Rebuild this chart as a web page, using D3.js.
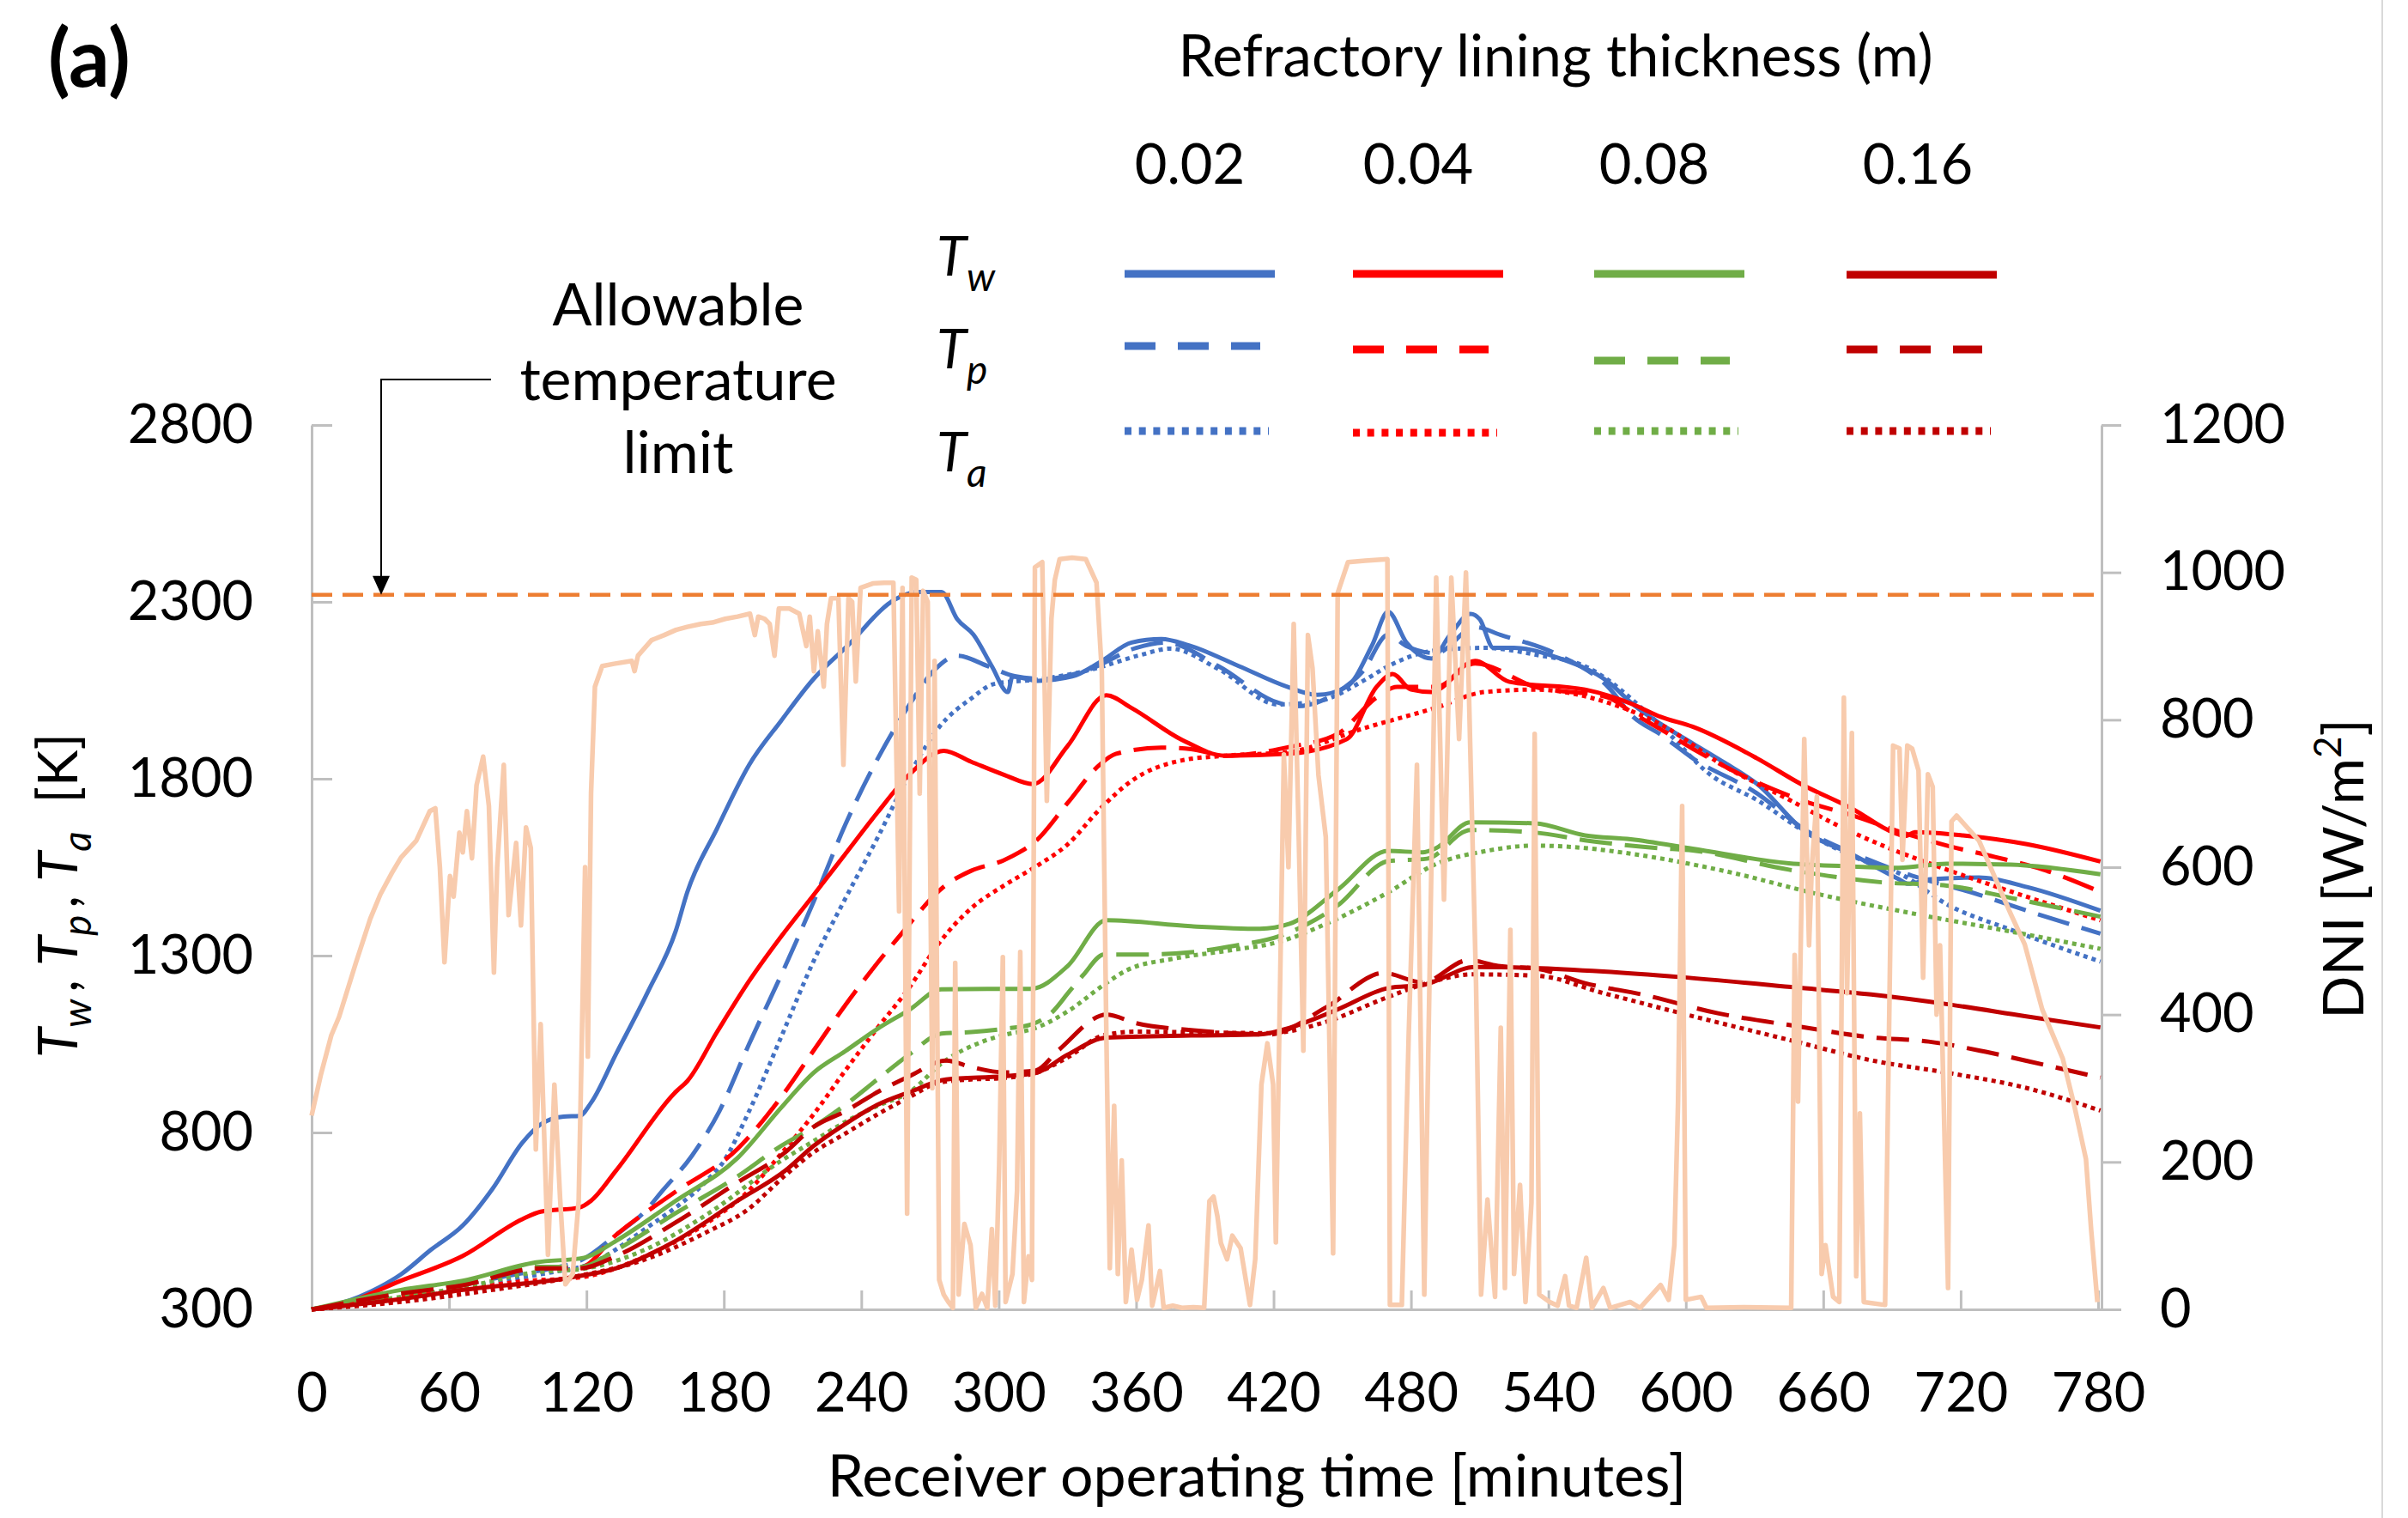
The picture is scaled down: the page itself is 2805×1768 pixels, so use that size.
<!DOCTYPE html>
<html>
<head>
<meta charset="utf-8">
<script src="https://cdn.jsdelivr.net/npm/d3@7"></script>
<style>
  body { margin: 0; background: #fff; }
  svg text { font-family: Lato, "Open Sans", sans-serif; fill: #000; }
</style>
</head>
<body>
<div id="chart"></div>
<script>
// [minutes, K]
var tw002 = [[0,300],[12,316],[30,364],[39,399],[52,468],[66,537],[79,641],[92,771],[100,823],[110,845],[117,847],[122,884],[133,1023],[147,1200],[159,1370],[164,1479],[177,1659],[191,1839],[205,1964],[219,2081],[234,2176],[255,2308],[264,2328],[275,2328],[282,2250],[289,2207],[297,2118],[304,2045],[306,2089],[317,2077],[332,2089],[345,2133],[358,2185],[371,2195],[383,2177],[405,2118],[426,2060],[439,2037],[452,2060],[463,2177],[470,2272],[478,2185],[489,2140],[497,2206],[506,2266],[510,2251],[516,2170],[525,2170],[545,2140],[566,2074],[577,2010],[589,1955],[603,1900],[617,1845],[631,1786],[652,1651],[672,1588],[693,1516],[697,1503],[707,1516],[728,1521],[749,1494],[781,1427]];
var tp002 = [[0,300],[30,328],[60,362],[90,400],[105,416],[118,440],[133,511],[146,580],[153,634],[166,734],[178,860],[191,1050],[205,1245],[219,1450],[233,1670],[247,1855],[261,2009],[272,2108],[282,2148],[295,2119],[307,2090],[320,2082],[340,2110],[360,2170],[373,2185],[396,2118],[422,2015],[430,2005],[448,2045],[459,2104],[470,2207],[478,2175],[491,2155],[508,2229],[519,2207],[545,2148],[566,2060],[577,1975],[589,1925],[603,1858],[631,1759],[652,1656],[675,1584],[695,1534],[728,1472],[749,1427],[781,1362]];
var ta002 = [[0,300],[30,322],[60,352],[90,388],[105,405],[120,425],[146,529],[173,667],[179,710],[191,860],[205,1070],[219,1282],[233,1461],[247,1632],[261,1812],[274,1946],[288,2027],[298,2068],[319,2082],[340,2108],[362,2150],[375,2168],[396,2110],[422,2010],[440,2020],[460,2080],[470,2118],[491,2163],[512,2170],[535,2150],[556,2118],[588,1957],[611,1810],[631,1740],[652,1650],[675,1575],[694,1530],[714,1445],[742,1373],[781,1283]];
var tw004 = [[0,300],[12,312],[39,381],[66,451],[92,555],[100,576],[117,588],[122,607],[133,693],[159,915],[164,945],[177,1084],[191,1228],[205,1354],[219,1470],[233,1587],[247,1704],[261,1812],[276,1879],[288,1848],[302,1812],[315,1785],[330,1892],[347,2036],[358,2000],[380,1910],[399,1865],[427,1871],[452,1912],[465,2060],[472,2096],[480,2052],[489,2045],[508,2133],[523,2074],[556,2052],[577,2010],[589,1975],[603,1947],[631,1858],[650,1786],[673,1714],[691,1647],[696,1638],[700,1649],[721,1640],[749,1615],[781,1566]];
var tp004 = [[0,300],[30,325],[60,358],[93,416],[117,418],[133,511],[159,633],[186,754],[205,900],[219,1030],[233,1160],[256,1350],[277,1500],[288,1540],[302,1569],[309,1592],[316,1623],[330,1731],[344,1839],[351,1870],[371,1888],[384,1884],[399,1865],[427,1890],[448,1927],[465,2030],[474,2060],[491,2060],[508,2126],[534,2060],[566,2030],[577,1985],[589,1940],[603,1885],[631,1790],[652,1736],[673,1696],[693,1651],[714,1611],[735,1579],[756,1543],[781,1480]];
var ta004 = [[0,300],[30,318],[60,348],[90,378],[119,392],[146,451],[173,546],[190,630],[205,740],[219,850],[233,975],[247,1095],[261,1210],[274,1336],[288,1434],[302,1497],[316,1551],[330,1614],[344,1713],[358,1794],[380,1852],[399,1865],[427,1876],[459,1942],[491,2001],[512,2045],[534,2052],[566,2015],[590,1950],[617,1835],[645,1741],[666,1669],[686,1611],[714,1543],[742,1481],[781,1400]];
var tw008 = [[0,300],[39,355],[66,381],[98,433],[119,446],[133,494],[159,607],[186,728],[205,870],[219,968],[233,1030],[247,1093],[261,1147],[275,1205],[295,1206],[314,1206],[330,1270],[347,1400],[384,1383],[414,1376],[427,1390],[448,1486],[470,1596],[485,1592],[491,1604],[506,1677],[534,1674],[556,1640],[576,1629],[603,1602],[645,1561],[673,1552],[693,1548],[714,1560],[742,1557],[781,1530]];
var tp008 = [[0,300],[39,345],[66,372],[98,420],[117,420],[133,468],[159,572],[186,676],[204,758],[219,815],[233,878],[247,950],[261,1021],[275,1080],[288,1084],[302,1093],[314,1105],[323,1138],[331,1200],[337,1246],[346,1303],[363,1303],[383,1309],[403,1328],[423,1356],[448,1442],[470,1567],[487,1574],[506,1655],[534,1648],[556,1626],[588,1604],[603,1597],[645,1543],[686,1507],[714,1498],[742,1463],[781,1410]];
var ta008 = [[0,300],[39,335],[66,362],[98,405],[119,415],[146,470],[173,570],[205,720],[219,775],[233,830],[247,875],[261,914],[276,1000],[293,1057],[302,1075],[316,1095],[331,1146],[346,1218],[356,1259],[376,1291],[401,1315],[423,1340],[443,1390],[469,1475],[491,1559],[513,1596],[534,1611],[556,1604],[576,1588],[617,1539],[659,1472],[700,1418],[742,1368],[781,1319]];
var tw016 = [[0,300],[39,329],[66,355],[113,390],[133,416],[159,494],[186,607],[207,693],[219,761],[233,824],[247,878],[261,914],[277,950],[302,959],[316,968],[330,1020],[347,1068],[384,1074],[414,1077],[427,1096],[448,1148],[470,1208],[486,1218],[508,1268],[534,1265],[564,1255],[598,1239],[648,1210],[681,1190],[715,1162],[748,1129],[781,1097]];
var tp016 = [[0,300],[39,345],[66,368],[100,416],[117,416],[133,451],[159,546],[186,659],[207,745],[219,815],[233,860],[247,914],[261,959],[277,1003],[288,985],[302,970],[316,975],[326,1032],[347,1133],[360,1109],[385,1089],[418,1077],[443,1154],[468,1251],[485,1224],[505,1287],[518,1271],[535,1263],[556,1222],[581,1190],[614,1137],[648,1101],[681,1069],[706,1057],[731,1028],[756,992],[781,955]];
var ta016 = [[0,300],[39,321],[79,355],[113,390],[146,442],[173,520],[190,580],[207,680],[219,743],[233,797],[247,851],[261,900],[274,941],[288,950],[302,954],[316,968],[330,1012],[346,1075],[360,1085],[418,1081],[443,1113],[468,1178],[485,1218],[507,1247],[535,1243],[564,1194],[598,1137],[648,1057],[681,1004],[715,968],[748,927],[781,862]];

// [minutes, W/m2]
var dni = [[0,263],[4,318],[8.6,372],[12,397],[19.4,471],[25.6,530],[30,563],[35,592],[39,613],[45.7,636],[51.6,676],[54,680],[56,600],[58,471],[60.4,588],[62,560],[64.5,647],[66,620],[67.8,676],[70,612],[72,711],[74.9,750],[77.4,683],[79.6,457],[81,600],[83.9,739],[86,535],[89.3,633],[91.4,521],[93.6,654],[95.7,626],[97.9,217],[100,387],[103.2,74],[106,305],[108.5,150],[110.8,34],[114,48],[116.6,147],[117.8,337],[119.4,600],[120.6,343],[122,700],[123.7,845],[126.9,873],[132,876],[139.8,880],[141,866],[142.5,887],[148.4,908],[154,915],[159.1,922],[164,926],[169.9,930],[175,932],[180.6,937],[186,940],[191.4,944],[193.5,915],[195,940],[197.8,937],[200,930],[202.1,887],[204,951],[208.6,951],[212.9,944],[216,900],[217.5,940],[219.3,866],[221,920],[223.6,845],[225,930],[226.8,965],[230,965],[232.2,739],[234.4,965],[236,960],[237.6,852],[239.7,979],[245,985],[250,986],[254,986],[256.5,540],[258,979],[260,130],[262,993],[264,990],[265.5,700],[267,975],[269,960],[271,300],[272,880],[274,40],[276,20],[278,10],[280,2],[281,470],[282.5,20],[285,116],[287.7,87],[290,2],[292.7,21],[295,2],[297,109],[298.5,5],[300.2,196],[301.8,478],[303,10],[306,48],[308,161],[309.4,485],[311,10],[313,72],[314.5,40],[315.8,1007],[319,1014],[321,690],[323,937],[324.5,990],[326.6,1018],[332,1020],[338,1018],[342.7,986],[345,866],[347,372],[348.5,56],[350.4,276],[352,48],[353.7,202],[355.5,10],[358,81],[360.4,13],[362.5,40],[365.4,114],[367,5],[370.4,52],[372,2],[376,5],[380,2],[385,3],[389.7,2],[392,147],[393.8,153],[395.5,126],[397,90],[399.7,68],[402,100],[405.6,83],[409.7,6],[412,68],[414.7,305],[417.3,361],[419.8,305],[421,91],[424.5,753],[426.5,600],[428.8,930],[431,641],[433,351],[435,915],[437,870],[439.6,725],[442.8,641],[446,76],[448,972],[452.5,1014],[460,1016],[469.7,1018],[470.8,6],[476,6],[479,372],[482.6,739],[485.8,20],[491,993],[494.4,556],[497.6,993],[501,774],[504,1000],[508.4,443],[510.6,20],[513.4,149],[516.7,17],[519.2,382],[521,29],[523.4,515],[525,48],[527.6,169],[530,10],[532.6,145],[534,781],[536,20],[540.6,10],[544,5],[547.3,45],[549,5],[552.3,2],[556.5,70],[559,2],[564,29],[567,2],[575.7,10],[580,2],[589,33],[592.5,13],[595,87],[596.6,281],[598.4,683],[600,13],[606.7,17],[609,2],[625,3],[646,2],[647.5,481],[649,282],[651.7,774],[653.8,494],[655,600],[657.2,696],[658.6,256],[659.3,48],[661,87],[664.3,17],[667,10],[669,830],[670.4,429],[672.5,782],[674.4,45],[676,266],[677.7,10],[687,6],[690.5,765],[693.3,761],[694.6,610],[696.7,765],[698.8,761],[701.6,731],[703.6,450],[705.7,726],[707.8,709],[709.5,400],[711,494],[714.5,29],[716,662],[718.2,670],[728,636],[741.8,537],[748,495],[755.6,407],[764.6,340],[769.5,278],[774.7,204],[777,107],[779.7,10]];

var thicknessLabels = ["0.02", "0.04", "0.08", "0.16"];
var xTicks = [0, 60, 120, 180, 240, 300, 360, 420, 480, 540, 600, 660, 720, 780];
var yLeftTicks = [300, 800, 1300, 1800, 2300, 2800];
var yRightTicks = [0, 200, 400, 600, 800, 1000, 1200];
var tempLimit = 2320;

var blue = "#4472C4", red = "#FF0000", green = "#70AD47", darkRed = "#C00000";
var colors = [blue, red, green, darkRed];

var series = [
  { data: tw002, kind: "w", col: 0 }, { data: tp002, kind: "p", col: 0 }, { data: ta002, kind: "a", col: 0 },
  { data: tw004, kind: "w", col: 1 }, { data: tp004, kind: "p", col: 1 }, { data: ta004, kind: "a", col: 1 },
  { data: tw008, kind: "w", col: 2 }, { data: tp008, kind: "p", col: 2 }, { data: ta008, kind: "a", col: 2 },
  { data: tw016, kind: "w", col: 3 }, { data: tp016, kind: "p", col: 3 }, { data: ta016, kind: "a", col: 3 }
];
var dashes = { w: null, p: "38,15", a: "5,5" };
var legendDashes = { w: null, p: "36,26", a: "8,8.7" };

var W = 2805, H = 1768;
var svg = d3.select("#chart").append("svg").attr("width", W).attr("height", H);

var x = d3.scaleLinear().domain([0, 781.5]).range([363, 2448]);
var yL = d3.scaleLinear().domain([300, 2800]).range([1525, 495]);
var yR = d3.scaleLinear().domain([0, 1200]).range([1525, 495]);
var plain = d3.format("d");

// chart frame line at far right
svg.append("line").attr("x1", 2775).attr("x2", 2775).attr("y1", 0).attr("y2", H)
  .attr("stroke", "#D9D9D9").attr("stroke-width", 2);

// axes
function styleAxis(g) {
  g.selectAll("path, line").attr("stroke", "#BFBFBF").attr("stroke-width", 3);
  g.selectAll("text").attr("font-size", 63).attr("font-family", "Lato, 'Open Sans', sans-serif").attr("fill", "#000");
}
svg.append("g").attr("transform", "translate(0,1525)")
  .call(d3.axisBottom(x).tickValues(xTicks).tickFormat(plain).tickSizeInner(-22).tickSizeOuter(0).tickPadding(74))
  .call(styleAxis);
svg.append("g").attr("transform", "translate(363,0)")
  .call(d3.axisLeft(yL).tickValues(yLeftTicks).tickFormat(plain).tickSizeInner(-24).tickSizeOuter(0).tickPadding(68))
  .call(styleAxis);
svg.append("g").attr("transform", "translate(2448,0)")
  .call(d3.axisRight(yR).tickValues(yRightTicks).tickFormat(plain).tickSizeInner(23).tickSizeOuter(0).tickPadding(45))
  .call(styleAxis);
svg.selectAll(".domain").attr("fill", "none");

// temperature lines
var tLine = d3.line().x(function (d) { return x(d[0]); }).y(function (d) { return yL(d[1]); }).curve(d3.curveMonotoneX);
svg.append("g").selectAll("path").data(series).enter().append("path")
  .attr("d", function (d) { return tLine(d.data); })
  .attr("fill", "none")
  .attr("stroke", function (d) { return colors[d.col]; })
  .attr("stroke-width", 5)
  .attr("stroke-linejoin", "round")
  .attr("stroke-dasharray", function (d) { return dashes[d.kind]; });

// DNI on secondary axis
var dLine = d3.line().x(function (d) { return x(d[0]); }).y(function (d) { return yR(d[1]); });
svg.append("path").attr("d", dLine(dni)).attr("fill", "none")
  .attr("stroke", "#F8CBAD").attr("stroke-width", 5.5).attr("stroke-linejoin", "round");

// allowable temperature limit
svg.append("line").attr("x1", x(0)).attr("x2", x(781.5)).attr("y1", yL(tempLimit)).attr("y2", yL(tempLimit))
  .attr("stroke", "#ED7D31").attr("stroke-width", 4.5).attr("stroke-dasharray", "24,12");

// annotation
var annot = svg.append("g");
[["Allowable", 379], ["temperature", 466], ["limit", 551]].forEach(function (l) {
  annot.append("text").attr("x", 790).attr("y", l[1]).attr("text-anchor", "middle").attr("font-size", 68).text(l[0]);
});
var ay = yL(tempLimit);
annot.append("path").attr("d", "M572,442 H444 V" + (ay - 20)).attr("fill", "none").attr("stroke", "#000").attr("stroke-width", 2);
annot.append("path").attr("d", "M434," + (ay - 22) + " L454," + (ay - 22) + " L444," + ay + " Z").attr("fill", "#000");

// panel label
svg.append("text").attr("x", 56).attr("y", 101).attr("font-size", 94).attr("font-weight", "bold").text("(a)");

// axis titles
svg.append("text").attr("x", 1464).attr("y", 1743).attr("text-anchor", "middle").attr("font-size", 68)
  .text("Receiver operating time [minutes]");

var yt = svg.append("text").attr("transform", "translate(90,1043) rotate(-90)").attr("text-anchor", "middle").attr("font-size", 64);
[["w", "\u2009, "], ["p", "\u2009, "], ["a", "\u00a0\u00a0[K]"]].forEach(function (p) {
  yt.append("tspan").attr("font-style", "italic").attr("dy", 0).text("T");
  yt.append("tspan").attr("font-style", "italic").attr("font-size", 46).attr("dy", 16).text(p[0]);
  yt.append("tspan").attr("dy", -16).text(p[1]);
});

var rt = svg.append("text").attr("transform", "translate(2753,1012) rotate(-90)").attr("text-anchor", "middle").attr("font-size", 66);
rt.append("tspan").text("DNI [W/m");
rt.append("tspan").attr("font-size", 44).attr("dy", -26).text("2");
rt.append("tspan").attr("dy", 26).text("]");

// legend
var lg = svg.append("g");
lg.append("text").attr("x", 1812).attr("y", 89).attr("text-anchor", "middle").attr("font-size", 67)
  .text("Refractory lining thickness (m)");
var colCenters = [1386, 1652, 1927, 2234];
lg.selectAll(".hdr").data(thicknessLabels).enter().append("text")
  .attr("x", function (d, i) { return colCenters[i]; }).attr("y", 214)
  .attr("text-anchor", "middle").attr("font-size", 65).text(function (d) { return d; });

var rowBase = { w: 321, p: 429, a: 549 };
["w", "p", "a"].forEach(function (k) {
  var t = lg.append("text").attr("x", 1091).attr("y", rowBase[k]).attr("font-size", 64).attr("font-style", "italic");
  t.append("tspan").text("T");
  t.append("tspan").attr("font-size", 46).attr("dy", 18).text(k);
});

var legStart = [1310, 1576, 1857, 2151];
var legLen = { w: 175, p: 158, a: 168 };
var legY = { w: [319, 319, 319, 320], p: [403, 407, 420, 407], a: [502, 504, 502, 502] };
lg.selectAll(".leg").data(series).enter().append("line")
  .attr("x1", function (d) { return legStart[d.col]; })
  .attr("x2", function (d) { return legStart[d.col] + legLen[d.kind]; })
  .attr("y1", function (d) { return legY[d.kind][d.col]; })
  .attr("y2", function (d) { return legY[d.kind][d.col]; })
  .attr("stroke", function (d) { return colors[d.col]; })
  .attr("stroke-width", 9)
  .attr("stroke-dasharray", function (d) { return legendDashes[d.kind]; });
</script>
</body>
</html>
